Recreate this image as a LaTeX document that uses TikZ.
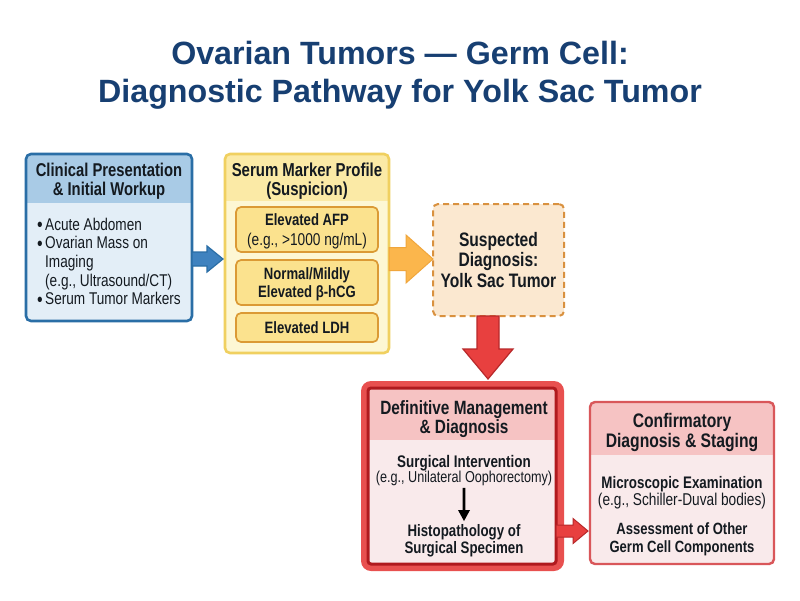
\documentclass[tikz,border=0pt]{standalone}
\usepackage{fontspec}
\setmainfont{Liberation Sans}
\newfontfamily\nar[FakeStretch=0.8]{Liberation Sans}
\usetikzlibrary{calc}
\definecolor{navy}{HTML}{173F72}
\definecolor{ink}{HTML}{141A20}
\definecolor{bluel}{HTML}{2A6EA6}\definecolor{blueh}{HTML}{A9CBE6}\definecolor{blueb}{HTML}{E3EEF7}\definecolor{bluef}{HTML}{3F82BF}
\definecolor{yell}{HTML}{F0D060}\definecolor{yelh}{HTML}{FBEAA6}\definecolor{yelb}{HTML}{FDF7D4}\definecolor{yeli}{HTML}{FBE28E}\definecolor{yelo}{HTML}{DB9A35}
\definecolor{orf}{HTML}{FBB64C}\definecolor{orl}{HTML}{F0A63C}
\definecolor{sugf}{HTML}{FBE8D0}\definecolor{sugl}{HTML}{D9913F}
\definecolor{redo}{HTML}{E8504F}\definecolor{redd}{HTML}{B01A1E}\definecolor{redh}{HTML}{F6C3C3}\definecolor{redb}{HTML}{F9EAEB}\definecolor{redl}{HTML}{D9575A}\definecolor{redf}{HTML}{E8403F}\definecolor{redk}{HTML}{B8282A}
\tikzset{
 panel/.style={rectangle,rounded corners=5pt,inner sep=0pt,outer sep=0pt},
 head/.style={font=\nar\bfseries\fontsize{#1}{19.5}\selectfont,text=ink,align=center,inner sep=0pt},
 sub/.style={font=\nar\fontsize{#1}{17.5}\selectfont,text=ink,align=center,inner sep=0pt},
 boldt/.style={font=\nar\bfseries\fontsize{#1}{17.5}\selectfont,text=ink,align=center,inner sep=0pt},
 inbox/.style={panel,fill=yeli,draw=yelo,line width=1.7pt,minimum width=142pt},
}
% style, from, to, half shaft, half head, head length
\newcommand{\blockarrow}[6]{%
 \path[#1] ($(#2)!#4pt!-90:(#3)$) --
  ($($(#3)!#6pt!(#2)$)!#4pt!-90:(#3)$) --
  ($($(#3)!#6pt!(#2)$)!#5pt!-90:(#3)$) -- (#3) --
  ($($(#3)!#6pt!(#2)$)!#5pt!90:(#3)$) --
  ($($(#3)!#6pt!(#2)$)!#4pt!90:(#3)$) --
  ($(#2)!#4pt!90:(#3)$) -- cycle;}
\newcommand{\bul}{\llap{\raisebox{-1.5pt}{\fontsize{20}{18}\selectfont\textbullet}\hspace{2.5pt}}}
\begin{document}
\begin{tikzpicture}[x=1pt,y=-1pt]
\useasboundingbox (0,0) rectangle (800,600);
\fill[white] (0,0) rectangle (800,600);
\node[font=\bfseries\fontsize{32.2}{38}\selectfont,text=navy,align=center,inner sep=0pt] (title) at (400,75.5) {Ovarian Tumors — Germ Cell:\\Diagnostic Pathway for Yolk Sac Tumor};

% Blue panel
\node[panel,fill=blueb,minimum width=166pt,minimum height=167pt] (blue) at (109,237.5) {};
\begin{scope}
 \clip[rounded corners=5pt] (26,154) rectangle (192,321);
 \fill[blueh] (26,154) rectangle (192,203);
\end{scope}
\draw[bluel,line width=2.6pt,rounded corners=5pt] (blue.north west) rectangle (blue.south east);
\node[head=18.5,font=\nar\bfseries\fontsize{18.5}{18.5}\selectfont] (bluet) at (109,181) {Clinical Presentation\\\& Initial Workup};
\node[sub=17,align=left,anchor=north west,font=\nar\fontsize{17}{18.7}\selectfont] (bluelist) at (45,217.5) {\bul Acute Abdomen\\\bul Ovarian Mass on\\Imaging\\(e.g., Ultrasound/CT)\\\bul Serum Tumor Markers};

% Yellow panel
\node[panel,fill=yelb,minimum width=164pt,minimum height=199pt] (yellow) at (307,253.5) {};
\begin{scope}
 \clip[rounded corners=5pt] (225,154) rectangle (389,353);
 \fill[yelh] (225,154) rectangle (389,201);
\end{scope}
\draw[yell,line width=2.6pt,rounded corners=5pt] (yellow.north west) rectangle (yellow.south east);
\node[head=18.7,font=\nar\bfseries\fontsize{18.7}{18.5}\selectfont] (yellowt) at (307,181) {Serum Marker Profile\\(Suspicion)};
\node[inbox,minimum height=45pt] (afp) at (307,229.5) {};
\node[inbox,minimum height=45pt] (hcg) at (307,282.5) {};
\node[inbox,minimum height=29pt] (ldh) at (307,327.5) {};
\node[boldt=16.4,anchor=base] (afpt) at (307,225.5) {Elevated AFP};
\node[sub=17.1,anchor=base] (afps) at (307,245) {(e.g., >1000 ng/mL)};
\node[boldt=16.4,font=\nar\bfseries\fontsize{16.4}{18}\selectfont] at (307,284.5) (hcgt) {Normal/Mildly\\Elevated β-hCG};
\node[boldt=16.4] at (307,328) (ldht) {Elevated LDH};

% Suspected
\node[panel,fill=sugf,draw=sugl,line width=2pt,dash pattern=on 6pt off 4pt,minimum width=131pt,minimum height=112pt] (susp) at (498.5,260) {};
\node[font=\nar\bfseries\fontsize{19.5}{20.5}\selectfont,text=ink,align=center,inner sep=0pt] (suspt) at (498.5,260) {Suspected\\Diagnosis:\\Yolk Sac Tumor};

% Definitive
\node[panel,fill=redo,rounded corners=10pt,minimum width=203pt,minimum height=190pt] (defo) at (462.5,476) {};
\node[panel,fill=redb,minimum width=188pt,minimum height=176pt,rounded corners=3pt] (def) at (462,476) {};
\begin{scope}
 \clip[rounded corners=3pt] (368,388) rectangle (556,564);
 \fill[redh] (368,388) rectangle (556,440);
\end{scope}
\draw[redd,line width=3pt,rounded corners=3pt] (def.north west) rectangle (def.south east);
\node[head=19.2] (deft) at (464,419) {Definitive Management\\\& Diagnosis};
\node[boldt=16.8,anchor=base] (surg) at (464,467) {Surgical Intervention};
\node[sub=15.8,anchor=base] (surgs) at (464,482.5) {(e.g., Unilateral Oophorectomy)};
\node[boldt=16.6,font=\nar\bfseries\fontsize{16.6}{17}\selectfont] (hist) at (464,540.5) {Histopathology of\\Surgical Specimen};

% Confirmatory
\node[panel,fill=redb,minimum width=184pt,minimum height=162pt] (conf) at (682,483) {};
\begin{scope}
 \clip[rounded corners=5pt] (590,402) rectangle (774,564);
 \fill[redh] (590,402) rectangle (774,455);
\end{scope}
\draw[redl,line width=2.4pt,rounded corners=5pt] (conf.north west) rectangle (conf.south east);
\node[head=19.6] (conft) at (682,432.5) {Confirmatory\\Diagnosis \& Staging};
\node[boldt=16.7,anchor=base] (micr) at (682,488) {Microscopic Examination};
\node[sub=17.1,anchor=base] (micrs) at (682,505) {(e.g., Schiller-Duval bodies)};
\node[boldt=16.3] (asse) at (682,539.5) {Assessment of Other\\Germ Cell Components};

% Connectors
\coordinate (a1) at ([yshift=-21.5pt]blue.east);
\coordinate (a1e) at ($(yellow.west |- a1)+(-2,0)$);
\blockarrow{fill=bluef,draw=bluel,line width=1.2pt}{a1}{a1e}{7}{13}{16}
\coordinate (a2) at ([yshift=-5.5pt]yellow.east);
\coordinate (a2e) at (susp.west |- a2);
\blockarrow{fill=orf,draw=orl,line width=1pt}{a2}{a2e}{11.5}{24}{27}
\coordinate (a3) at ([xshift=-10.5pt]susp.south);
\coordinate (a3e) at ($(a3 |- defo.north)+(0,-2)$);
\blockarrow{fill=redf,draw=redk,line width=1.2pt}{a3}{a3e}{11}{25}{30}
\coordinate (a4) at ([yshift=-55pt]def.east);
\coordinate (a4e) at ($(conf.west |- a4)+(-2,0)$);
\blockarrow{fill=redf,draw=redk,line width=1pt}{a4}{a4e}{6}{12.5}{15}
\coordinate (b1) at ($(surgs.south)+(0,2)$);
\coordinate (b1e) at ($(hist.north)+(0,-3)$);
\blockarrow{fill=black}{b1}{b1e}{1.3}{6}{11}
\end{tikzpicture}
\end{document}
